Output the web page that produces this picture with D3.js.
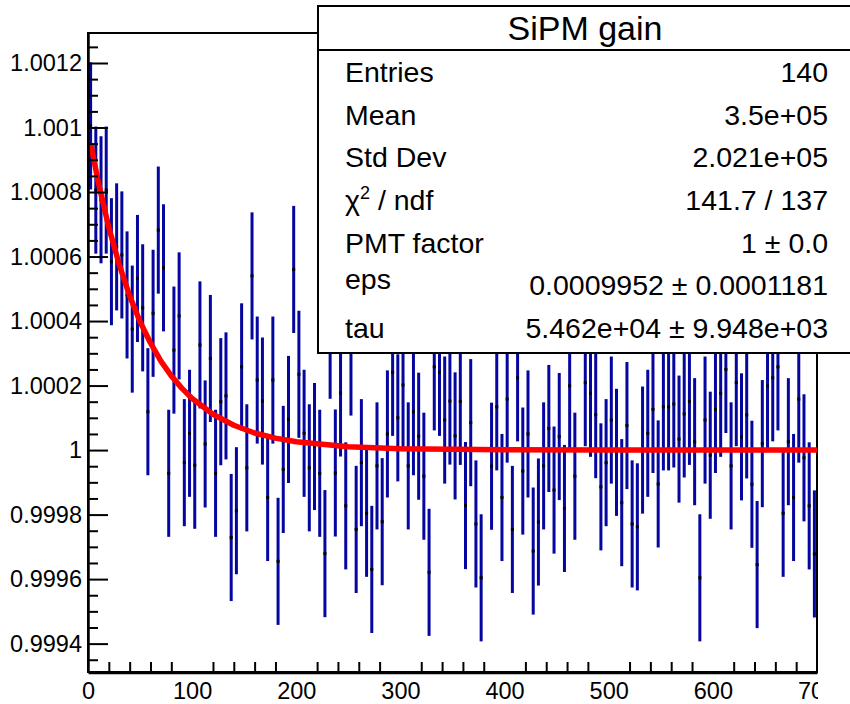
<!DOCTYPE html>
<html><head><meta charset="utf-8">
<script src="https://cdn.jsdelivr.net/npm/d3@7"></script>
<style>
body{margin:0;background:#fff}
svg{display:block}
text{font-family:"Liberation Sans",Arial,Helvetica,sans-serif;fill:#000}
</style>
</head><body>
<svg id="c" width="850" height="704"></svg>
<script>
// ---- data ----
const xMin = 0, xMax = 700, nBins = 140;
const gainValues = [
1.001005,1.000806,1.000776,1.000806,1.000584,1.000630,1.000605,1.000481,1.000375,1.000532,
1.000441,1.000119,1.000424,1.000682,1.000565,0.999928,1.000310,1.000416,0.999961,1.000052,
0.999953,1.000326,1.000019,1.000284,0.999928,1.000150,1.000168,0.999729,0.999812,1.000258,
0.999945,1.000540,1.000217,1.000152,0.999853,1.000217,0.999655,0.999940,1.000095,1.000560,
1.000235,1.000052,0.999945,1.000011,0.999928,0.999679,1.000356,0.999929,1.000177,0.999827,
1.000304,0.999754,0.999961,0.999804,0.999630,0.999951,0.999778,1.000050,1.000241,1.000100,
1.000202,0.999951,1.000119,1.000043,0.999919,0.999621,1.000258,1.000241,1.000093,1.000152,
1.000044,1.000151,0.999828,1.000085,0.999771,0.999604,1.000540,0.999950,1.000134,0.999853,
1.000158,0.999754,1.000224,0.999935,1.000050,0.999687,0.999777,0.999951,1.000067,0.999876,
1.000042,0.999819,1.000199,0.999919,1.000540,1.000209,1.000176,1.000110,0.999886,0.999961,
1.000093,0.999993,0.999837,1.000076,0.999771,0.999762,1.000000,1.000052,1.000126,0.999895,
1.000134,1.000134,1.000143,1.000034,1.000112,1.000151,1.000026,0.999604,1.000093,0.999984,
1.000126,1.000176,1.000250,0.999951,1.000209,1.000041,1.000109,0.999894,0.999645,1.000020,
1.000199,1.000224,1.000258,0.999804,1.000026,0.999853,1.000158,0.999976,0.999827,0.999678
];
const binError = 0.000197;
const fitX = [2.5,10,20,30,40,50,60,70,80,90,100,120,140,160,180,200,250,300,400,500,600,700];
const fitY = [1.000951,1.000829,1.000690,1.000575,1.000478,1.000398,1.000332,1.000276,1.000230,1.000192,
              1.000160,1.000111,1.000077,1.000053,1.000037,1.000026,1.000010,1.000004,1.000001,1.000000,1.000000,1.000000];
const xTickValues = [0,100,200,300,400,500,600,700];
const yTickValues = [0.9994,0.9996,0.9998,1.0000,1.0002,1.0004,1.0006,1.0008,1.0010,1.0012];
const statTitle = "SiPM gain";
const statLabels = ["Entries","Mean","Std Dev","χ2 / ndf","PMT factor","eps","tau"];
const statValues = ["140","3.5e+05","2.021e+05","141.7 / 137","1 \u00b1 0.0","0.0009952 \u00b1 0.0001181","5.462e+04 \u00b1 9.948e+03"];

// ---- layout ----
const svg = d3.select("#c");
const frame = {left:88, right:817, top:33, bottom:672};
const x = d3.scaleLinear().domain([xMin, xMax]).range([frame.left, frame.right]);
const y = d3.scaleLinear().domain([0.999312, 1.001293]).range([frame.bottom, frame.top]);
const binWidth = (xMax - xMin) / nBins;
const bins = gainValues.map((v, i) => ({xc: xMin + (i + 0.5) * binWidth, v}));

svg.append("defs").append("clipPath").attr("id","plotclip")
  .append("rect").attr("x",frame.left).attr("y",frame.top)
  .attr("width",frame.right-frame.left).attr("height",frame.bottom-frame.top);
svg.select("defs").append("clipPath").attr("id","labelclip")
  .append("rect").attr("x",0).attr("y",0).attr("width",frame.right+1).attr("height",704);

// frame
svg.append("rect").attr("x",frame.left).attr("y",frame.top)
  .attr("width",frame.right-frame.left).attr("height",frame.bottom-frame.top)
  .attr("fill","none").attr("stroke","#000").attr("stroke-width",2);

const plot = svg.append("g").attr("clip-path","url(#plotclip)");
// error bars
plot.selectAll("line.err").data(bins).join("line").attr("class","err")
  .attr("x1",d=>x(d.xc)).attr("x2",d=>x(d.xc))
  .attr("y1",d=>y(d.v-binError)).attr("y2",d=>y(d.v+binError))
  .attr("stroke","#0505a0").attr("stroke-width",3);
// markers
plot.selectAll("rect.pt").data(bins).join("rect").attr("class","pt")
  .attr("x",d=>x(d.xc)-1.5).attr("y",d=>y(d.v)-1.5)
  .attr("width",3).attr("height",3).attr("fill","#000");
// fit curve
const fitPts = fitX.map((fx,i)=>[fx, fitY[i]]);
plot.append("path").datum(fitPts)
  .attr("d", d3.line().x(d=>x(d[0])).y(d=>y(d[1])))
  .attr("fill","none").attr("stroke","#ff0000").attr("stroke-width",5.5)
  .attr("stroke-linejoin","round");

// axes
const fmtY = d => String(+d.toFixed(4));
const yMinor = d3.range(0.99935, 1.00129, 0.00005).map(v=>+v.toFixed(5))
  .filter(v => !yTickValues.some(t => Math.abs(t-v) < 1e-7));
const yAxisG = svg.append("g").attr("transform",`translate(${frame.left},0)`)
  .call(d3.axisLeft(y).tickValues(yTickValues).tickSize(-20).tickSizeOuter(0).tickPadding(6).tickFormat(fmtY));
svg.append("g").attr("transform",`translate(${frame.left},0)`)
  .call(d3.axisLeft(y).tickValues(yMinor).tickSize(-10).tickSizeOuter(0).tickFormat(""))
  .select(".domain").remove();

const xMinor = d3.range(20, 700, 20).filter(v => v % 100 !== 0);
const xAxisG = svg.append("g").attr("transform",`translate(0,${frame.bottom})`).attr("clip-path","url(#labelclip)")
  .call(d3.axisBottom(x).tickValues(xTickValues).tickSize(-19).tickSizeOuter(0).tickPadding(10).tickFormat(d3.format("d")));
svg.append("g").attr("transform",`translate(0,${frame.bottom})`)
  .call(d3.axisBottom(x).tickValues(xMinor).tickSize(-10).tickSizeOuter(0).tickFormat(""))
  .select(".domain").remove();

svg.selectAll(".tick line").attr("stroke","#000").attr("stroke-width",2);
yAxisG.select(".domain").attr("stroke","#000").attr("stroke-width",2.5);
xAxisG.select(".domain").attr("stroke","#000").attr("stroke-width",3.5);
yAxisG.selectAll("text").attr("font-size",23.5).attr("font-family","Liberation Sans, Arial, sans-serif");
xAxisG.selectAll("text").attr("font-size",23.5).attr("font-family","Liberation Sans, Arial, sans-serif");

// stats box
const box = {left:318, top:6, right:852, bottom:353, sep:50};
const sb = svg.append("g");
sb.append("rect").attr("x",box.left).attr("y",box.top)
  .attr("width",box.right-box.left).attr("height",box.bottom-box.top)
  .attr("fill","#fff").attr("stroke","#000").attr("stroke-width",2);
sb.append("line").attr("x1",box.left).attr("x2",box.right)
  .attr("y1",box.sep).attr("y2",box.sep).attr("stroke","#000").attr("stroke-width",2);
sb.append("text").attr("x",585).attr("y",40).attr("text-anchor","middle")
  .attr("font-size",34).text(statTitle);
const rowY = d3.scaleLinear().domain([0, statLabels.length-1]).range([82, 338]);
statLabels.forEach((lab, i) => {
  const t = sb.append("text").attr("x",345).attr("y",rowY(i) - (lab==="eps" ? 6 : 0)).attr("font-size",28.5);
  if (lab.startsWith("χ")) {
    t.append("tspan").text("χ");
    t.append("tspan").attr("font-size",18).attr("dy",-11).text("2");
    t.append("tspan").attr("dy",11).text(" / ndf");
  } else t.text(lab);
  sb.append("text").attr("x",828).attr("y",rowY(i)).attr("text-anchor","end")
    .attr("font-size",28.5).text(statValues[i]);
});
</script>
</body></html>
